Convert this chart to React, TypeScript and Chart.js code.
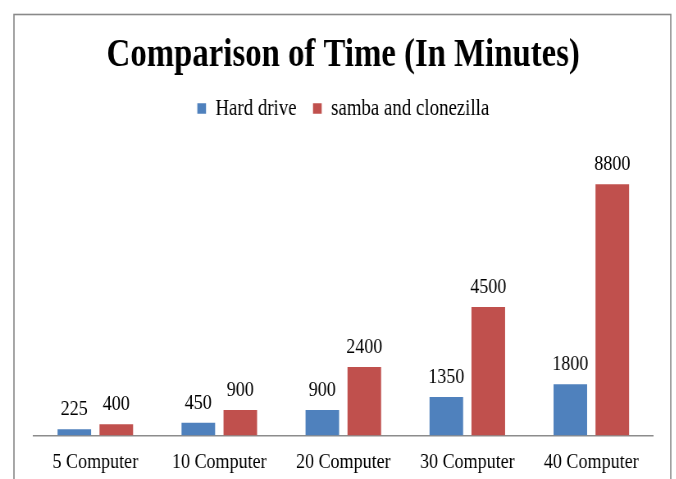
import React, { useEffect, useRef } from "react";
import { Chart, registerables } from "chart.js";

Chart.register(...registerables);

const categories = ["5 Computer", "10 Computer", "20 Computer", "30 Computer", "40 Computer"];
const hardDrive = [225, 450, 900, 1350, 1800];
const sambaClonezilla = [400, 900, 2400, 4500, 8800];
const seriesNames = ["Hard drive", "samba and clonezilla"];
const titleText = "Comparison of Time (In Minutes)";

const SCALE_X = 0.82;
const W = 824;
const H = 493;
const FONT = "'Liberation Serif', 'Times New Roman', serif";

const frame = {
  id: "frame",
  beforeDraw(chart: any) {
    const ctx = chart.ctx;
    ctx.save();
    ctx.fillStyle = "#ffffff";
    ctx.fillRect(0, 0, chart.width, chart.height);
    ctx.strokeStyle = "#898989";
    ctx.lineWidth = 1.6;
    ctx.strokeRect(17, 14.5, 801, 600);
    ctx.restore();
  },
};

const valueLabels = {
  id: "valueLabels",
  afterDatasetsDraw(chart: any) {
    const ctx = chart.ctx;
    ctx.save();
    ctx.font = `22px ${FONT}`;
    ctx.fillStyle = "#000000";
    ctx.textAlign = "center";
    ctx.textBaseline = "alphabetic";
    chart.data.datasets.forEach((ds: any, i: number) => {
      const meta = chart.getDatasetMeta(i);
      meta.data.forEach((bar: any, j: number) => {
        ctx.fillText(String(ds.data[j]), bar.x, bar.y - 14);
      });
    });
    ctx.restore();
  },
};

export default function App() {
  const ref = useRef<HTMLCanvasElement>(null);
  useEffect(() => {
    if (!ref.current) return;
    const chart = new Chart(ref.current, {
      type: "bar",
      data: {
        labels: categories,
        datasets: [
          {
            label: seriesNames[0],
            data: hardDrive,
            backgroundColor: "#4F81BD",
            categoryPercentage: 0.677,
            barPercentage: 0.8,
          },
          {
            label: seriesNames[1],
            data: sambaClonezilla,
            backgroundColor: "#C0504D",
            categoryPercentage: 0.677,
            barPercentage: 0.8,
          },
        ],
      },
      options: {
        responsive: false,
        animation: false,
        devicePixelRatio: 1,
        layout: { padding: { left: 40.6, right: 27.3, top: 0, bottom: 5 } },
        plugins: {
          tooltip: { enabled: false },
          title: {
            display: true,
            text: titleText,
            color: "#000000",
            font: { family: FONT, size: 40, weight: "bold", lineHeight: 1.2 },
            padding: { top: 32, bottom: -3 },
          },
          legend: {
            display: true,
            labels: {
              boxWidth: 10.6,
              boxHeight: 10.6,
              padding: 20,
              color: "#000000",
              font: { family: FONT, size: 23 },
            },
          },
        },
        scales: {
          x: {
            grid: { display: false, drawTicks: false },
            border: { display: true, color: "#8c8c8c", width: 1.5 },
            ticks: { color: "#000000", padding: 13, font: { family: FONT, size: 22 } },
          },
          y: {
            display: false,
            min: 0,
            max: 10700,
          },
        },
      },
      plugins: [frame, valueLabels],
    });
    return () => chart.destroy();
  }, []);

  return (
    <div
      style={{
        position: "fixed",
        left: 0,
        top: 0,
        width: W,
        height: H,
        transform: `scaleX(${SCALE_X})`,
        transformOrigin: "0 0",
      }}
    >
      <canvas ref={ref} width={W} height={H} />
    </div>
  );
}
